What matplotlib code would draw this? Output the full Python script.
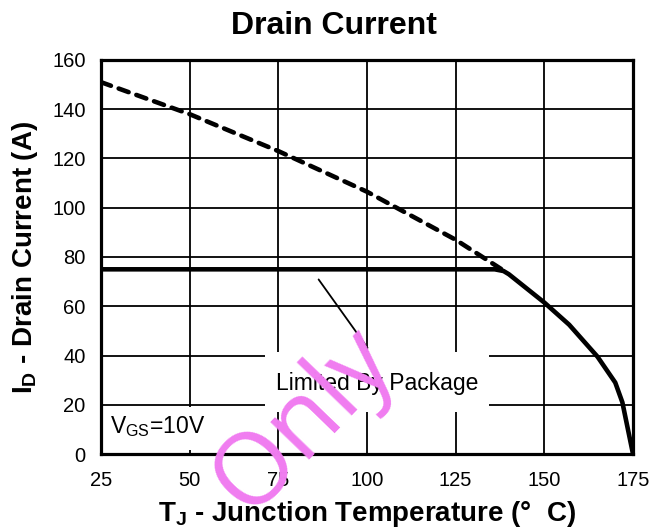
import matplotlib
matplotlib.use("Agg")
import matplotlib.pyplot as plt
from matplotlib.patches import Rectangle

plt.rcParams['font.family'] = ['Liberation Sans', 'DejaVu Sans']
plt.rcParams['mathtext.default'] = 'regular'

# Data
temp_dash = [25, 50, 75, 100, 125, 138.5]
curr_dash = [151, 138, 123, 106.5, 87, 74.5]

temp_pkg = [25, 136, 138.5, 140, 150, 157, 165, 170, 172, 175]
curr_pkg = [75, 75, 74.3, 73, 61.5, 52.5, 39.5, 29, 21, 0]

x_ticks = [25, 50, 75, 100, 125, 150, 175]
y_ticks = [0, 20, 40, 60, 80, 100, 120, 140, 160]

fig = plt.figure(figsize=(6.53, 5.28), dpi=100)
ax = fig.add_axes([101 / 653, 1 - 454 / 528, 532 / 653, 394 / 528])

ax.set_xlim(25, 175)
ax.set_ylim(0, 160)
ax.set_xticks(x_ticks)
ax.set_yticks(y_ticks)
ax.tick_params(length=0, labelsize=14.5)
ax.tick_params(axis='x', pad=12)
ax.tick_params(axis='y', pad=11)
ax.set_axisbelow(True)
ax.grid(True, color='black', linewidth=1.3)
for s in ax.spines.values():
    s.set_linewidth(2.3)
    s.set_zorder(5)

# white label backgrounds
ax.add_patch(Rectangle((71.2, 17), 63.2, 24.4, facecolor='white', edgecolor='none', zorder=1.5))
ax.add_patch(Rectangle((25, 1.6), 33, 17.6, facecolor='white', edgecolor='none', zorder=1.5))

line_d, = ax.plot(temp_dash, curr_dash, color='black', linewidth=3.3, zorder=3,
                  dash_capstyle='round')
line_d.set_dashes([2.3, 1.8])
ax.plot(temp_pkg, curr_pkg, color='black', linewidth=3.3, zorder=3,
        solid_joinstyle='round')

# annotation
ax.annotate('', xy=(100.6, 42.2), xytext=(85.9, 71.8),
            arrowprops=dict(arrowstyle='-', color='black', linewidth=1.3))
ax.text(103, 28.8, 'Limited By Package', ha='center', va='center', fontsize=16.5, zorder=4)
ax.text(27.6, 8.5, r'V$_{GS}$=10V', ha='left', va='baseline', fontsize=16.5, zorder=4)

fig.text(334 / 653, 1 - 26 / 528, 'Drain Current', ha='center', va='center',
         fontsize=23, fontweight='bold')
ax.set_xlabel(r'T$_J$ - Junction Temperature (°  C)', fontsize=20, fontweight='bold', labelpad=7)
ax.set_ylabel(r'I$_D$ - Drain Current (A)', fontsize=20, fontweight='bold', labelpad=9)

# watermark
fig.text(304 / 653, 1 - 421 / 528, 'Only', ha='center', va='center', fontsize=72,
         rotation=46, color='#f07cf0', zorder=10, family=['Open Sans', 'Liberation Sans'])

fig.savefig('out.png', dpi=100)
